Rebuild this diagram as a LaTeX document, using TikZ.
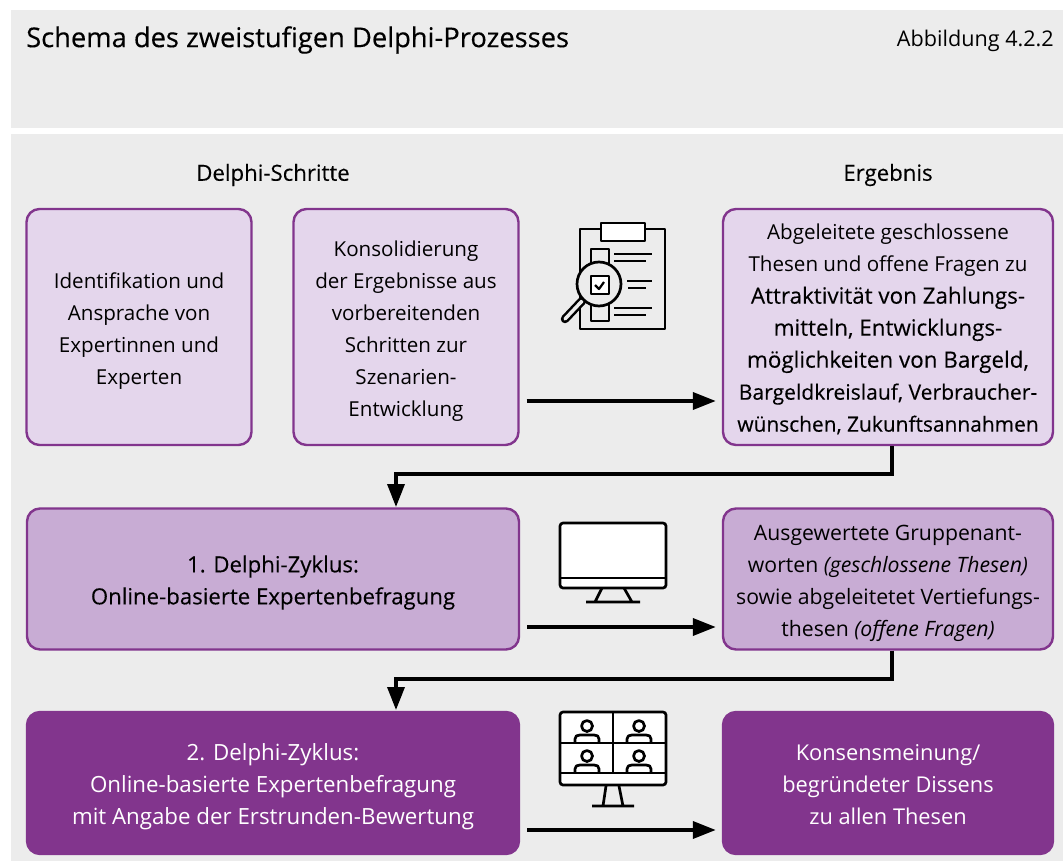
\documentclass[tikz,border=0pt]{standalone}
\usepackage{fontspec}
\setmainfont{Open Sans}
\newfontfamily\medfont[FakeBold=0.25]{Open Sans}
\usepackage{tikz}
\usetikzlibrary{arrows.meta,positioning}
\definecolor{panelgray}{RGB}{236,236,236}
\definecolor{frame}{RGB}{130,53,141}
\definecolor{lightlilac}{RGB}{228,214,236}
\definecolor{midlilac}{RGB}{200,172,212}
\newcommand{\medline}[2]{{\medfont\fontsize{#1}{32}\selectfont #2}}
\newcommand{\drop}[1][24pt]{\rule{0pt}{#1}}
\begin{document}
\begin{tikzpicture}[x=1pt,y=-1pt,
  stepbox/.style={draw=frame, line width=2.4pt, rounded corners=13pt, align=center, inner sep=0pt, font=\fontsize{#1}{32}\selectfont, text=black},
  light/.style={stepbox=20.6, fill=lightlilac},
  medium/.style={stepbox=#1, fill=midlilac},
  dark/.style={stepbox=#1, fill=frame, text=white},
  flow/.style={line width=3.6pt, -{Triangle[length=23pt,width=17pt]}},
  across/.style={flow, shorten <=7pt, shorten >=6pt},
  heading/.style={font=\medfont\fontsize{22.2}{26}\selectfont, inner sep=0pt},
  icon/.style={line width=2.7pt, line join=round},
  iconfill/.style={icon, fill=white}
]
  \useasboundingbox (0,0) rectangle (1063,861);
  \fill[panelgray] (11,10) rectangle (1063,128);
  \fill[panelgray] (11,134) rectangle (1063,861);

  \node[anchor=west, inner sep=0pt, font=\medfont\fontsize{27.3}{30}\selectfont] (title) at (26,40) {Schema des zweistufigen Delphi-Prozesses};
  \node[anchor=east, inner sep=0pt, font=\fontsize{21.6}{26}\selectfont] (figno) at (1054,41) {Abbildung 4.2.2};
  \node[heading] (steps) at (273,175) {Delphi-Schritte};
  \node[heading] (result) at (888,175) {Ergebnis};

  % boxes
  \node[light, minimum width=225pt, minimum height=236pt] (ident) at (139,327) {\drop Identifikation und\\Ansprache von\\Expertinnen und\\Experten};
  \node[light, minimum width=225pt, minimum height=236pt] (konsol) at (406,327) {\drop Konsolidierung\\der Ergebnisse aus\\vorbereitenden\\Schritten zur\\Szenarien-\\Entwicklung};
  \node[light, minimum width=330pt, minimum height=236pt] (thesen) at (888,327) {\drop[20pt]Abgeleitete geschlossene\\Thesen und offene Fragen zu\\\medline{22.4}{Attraktivität von Zahlungs-}\\\medline{22.4}{mitteln, Entwicklungs-}\\\medline{22.4}{möglichkeiten von Bargeld,}\\\medline{21.1}{Bargeldkreislauf, Verbraucher-}\\\medline{20.9}{wünschen, Zukunftsannahmen}};
  \node[medium=22.2, minimum width=492pt, minimum height=141pt] (zyklusa) at (273,579) {\drop\medline{22.2}{1. Delphi-Zyklus:}\\\medline{22.2}{Online-basierte Expertenbefragung}};
  \node[medium=21.2, minimum width=330pt, minimum height=141pt] (antwort) at (888,579) {\drop Ausgewertete Gruppenant-\\worten \textit{(geschlossene Thesen)}\\sowie abgeleitetet Vertiefungs-\\thesen \textit{(offene Fragen)}};
  \node[dark=22.3, minimum width=492pt, minimum height=142pt] (zyklusb) at (273,783) {\drop 2. Delphi-Zyklus:\\Online-basierte Expertenbefragung\\mit Angabe der Erstrunden-Bewertung};
  \node[dark=21.8, minimum width=330pt, minimum height=142pt] (konsens) at (888,783) {\drop[20pt]Konsensmeinung/\\begründeter Dissens\\zu allen Thesen};

  % arrows
  \draw[across] (konsol.east |- 0,401) -- (thesen.west |- 0,401);
  \draw[across] (zyklusa.east |- 0,627) -- (antwort.west |- 0,627);
  \draw[across] (zyklusb.east |- 0,830) -- (konsens.west |- 0,830);
  \coordinate (knota) at (892,474);
  \coordinate (knotb) at (892,679);
  \draw[flow] (thesen.south -| knota) -- (knota) -- (396,474) -- (396,507);
  \draw[flow] (antwort.south -| knotb) -- (knotb) -- (396,679) -- (396,710);

  % clipboard icon
  \draw[icon] (580,229) rectangle (665,329);
  \draw[iconfill] (601,223) rectangle (645,241);
  \draw[icon] (591,249) rectangle (609,321);
  \draw[icon] (614,254) -- (652,254) (614,261) -- (646,261)
    (627,281) -- (652,281) (628,288) -- (646,288)
    (614,308) -- (652,308) (614,315) -- (646,315);
  \draw[line width=8.5pt, line cap=round] (582,301) -- (565,319);
  \draw[line width=3.5pt, line cap=round, panelgray] (582,301) -- (565,319);
  \draw[icon, fill=panelgray] (599,284) circle[radius=22];
  \draw[iconfill] (591,276) rectangle (609,294);
  \draw[icon, line width=2.2pt] (595,285) -- (599,289) -- (604,282);

  % monitor icon
  \draw[iconfill, rounded corners=3pt] (560,523) rectangle (666,588);
  \draw[icon] (560,578) -- (666,578);
  \draw[icon] (602,588) -- (595,602) (624,588) -- (632,602) (586,602) -- (640,602);

  % video call icon
  \draw[iconfill, rounded corners=3pt] (560,712) rectangle (666,785);
  \draw[icon] (560,743) -- (666,743) (560,773) -- (666,773) (613,712) -- (613,773);
  \foreach \px/\py in {587/735,639/735,587/765,639/765} {
    \draw[icon] (\px,\py-9) circle[radius=5.5];
    \draw[icon] (\px-12,\py+8) -- (\px-12,\py+4) .. controls (\px-12,\py+1) and (\px-10,\py) .. (\px-7,\py) -- (\px+7,\py) .. controls (\px+10,\py) and (\px+12,\py+1) .. (\px+12,\py+4) -- (\px+12,\py+8);
  }
  \draw[icon] (606,786) -- (603,806) (619,786) -- (623,806) (592,806) -- (634,806);
\end{tikzpicture}
\end{document}
